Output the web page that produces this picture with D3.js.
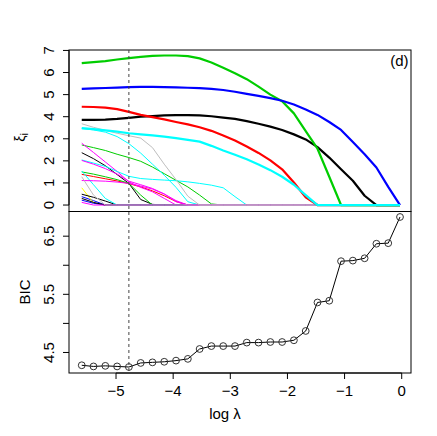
<!DOCTYPE html>
<html><head><meta charset="utf-8">
<script src="https://cdn.jsdelivr.net/npm/d3@7"></script>
<style>
body{margin:0;background:#fff}
text{font-family:"Liberation Sans",Arial,Helvetica,sans-serif;fill:#000}
</style>
</head><body>
<svg id="chart" width="437" height="436"></svg>
<script>
// ---------- data ----------
const logLambda = [-5.600,-5.394,-5.187,-4.981,-4.775,-4.568,-4.362,-4.156,-3.950,-3.743,-3.537,-3.331,-3.124,-2.918,-2.712,-2.506,-2.299,-2.093,-1.887,-1.680,-1.474,-1.268,-1.062,-0.855,-0.649,-0.443,-0.236,-0.030];
const bic = [4.28,4.26,4.27,4.26,4.25,4.32,4.33,4.34,4.36,4.39,4.56,4.61,4.61,4.61,4.67,4.67,4.68,4.68,4.71,4.87,5.36,5.39,6.07,6.08,6.12,6.37,6.38,6.83];

// thick (main) paths
const pathBlack   = [3.86,3.86,3.87,3.90,3.95,4.00,4.03,4.06,4.07,4.07,4.06,4.02,3.96,3.90,3.80,3.68,3.55,3.40,3.20,2.97,2.62,2.15,1.62,1.10,0.42,0,0,0];
const pathRed     = [4.45,4.44,4.41,4.34,4.22,4.08,3.98,3.88,3.76,3.65,3.52,3.36,3.15,2.92,2.65,2.36,2.02,1.62,1.02,0.35,0,0,0,0,0,0,0,0];
const pathGreen   = [6.43,6.47,6.52,6.59,6.65,6.71,6.75,6.77,6.77,6.74,6.64,6.45,6.22,5.97,5.70,5.36,5.00,4.70,4.15,3.35,2.55,1.28,0,0,0,0,0,0];
const pathBlue    = [5.26,5.28,5.30,5.32,5.34,5.35,5.35,5.34,5.33,5.31,5.29,5.26,5.21,5.13,5.03,4.94,4.84,4.72,4.55,4.33,4.08,3.76,3.40,2.85,2.30,1.70,0.82,0];
const pathCyan    = [3.48,3.44,3.38,3.32,3.25,3.20,3.15,3.10,3.03,2.95,2.87,2.68,2.47,2.28,2.07,1.84,1.58,1.28,0.92,0.45,0,0,0,0,0,0,0,0];

// thin (minor) paths
const thinBlack1   = [2.37,2.10,1.78,1.38,0.98,0.25,0.03,0,0,0,0,0,0,0,0,0,0,0,0,0,0,0,0,0,0,0,0,0];
const thinRed1     = [1.39,1.29,1.19,1.09,0.97,0.82,0.64,0.42,0.16,0,0,0,0,0,0,0,0,0,0,0,0,0,0,0,0,0,0,0];
const thinGreen1   = [2.72,2.60,2.47,2.30,2.15,1.98,1.72,1.42,1.12,0.82,0.45,0.05,0,0,0,0,0,0,0,0,0,0,0,0,0,0,0,0];
const thinBlue1    = [0.38,0.20,0,0,0,0,0,0,0,0,0,0,0,0,0,0,0,0,0,0,0,0,0,0,0,0,0,0];
const thinCyan1    = [3.46,3.40,3.30,3.10,2.78,2.35,1.85,1.35,0.80,0.15,0,0,0,0,0,0,0,0,0,0,0,0,0,0,0,0,0,0];
const thinMagenta1 = [2.80,2.38,1.95,1.52,1.05,0.80,0.60,0.30,0,0,0,0,0,0,0,0,0,0,0,0,0,0,0,0,0,0,0,0];
const thinYellow1  = [0.78,0.10,0,0,0,0,0,0,0,0,0,0,0,0,0,0,0,0,0,0,0,0,0,0,0,0,0,0];
const thinBlack2   = [0.49,0.35,0.18,0,0,0,0,0,0,0,0,0,0,0,0,0,0,0,0,0,0,0,0,0,0,0,0,0];
const thinGreen2   = [1.50,1.40,1.28,1.15,0.98,0.45,0,0,0,0,0,0,0,0,0,0,0,0,0,0,0,0,0,0,0,0,0,0];
const thinBlue2    = [0.22,0.08,0,0,0,0,0,0,0,0,0,0,0,0,0,0,0,0,0,0,0,0,0,0,0,0,0,0];
const thinCyan2    = [2.04,1.90,1.75,1.52,1.30,1.20,1.16,1.13,1.10,1.05,0.98,0.90,0.78,0.38,0,0,0,0,0,0,0,0,0,0,0,0,0,0];
const thinMagenta2 = [2.02,1.85,1.65,1.40,1.08,0.92,0.75,0.50,0.20,0,0,0,0,0,0,0,0,0,0,0,0,0,0,0,0,0,0,0];
const thinCyan3    = [1.54,0.92,0.30,0,0,0,0,0,0,0,0,0,0,0,0,0,0,0,0,0,0,0,0,0,0,0,0,0];
const thinBlack3   = [0.30,0.12,0,0,0,0,0,0,0,0,0,0,0,0,0,0,0,0,0,0,0,0,0,0,0,0,0,0];
const thinMagenta3 = [1.11,1.10,1.08,1.04,0.98,0.86,0.72,0.50,0.15,0,0,0,0,0,0,0,0,0,0,0,0,0,0,0,0,0,0,0];
const thinMagenta4 = [0.12,0,0,0,0,0,0,0,0,0,0,0,0,0,0,0,0,0,0,0,0,0,0,0,0,0,0,0];
const thinGray1    = [1.28,0.45,0,0,0,0,0,0,0,0,0,0,0,0,0,0,0,0,0,0,0,0,0,0,0,0,0,0];
const thinGray2    = [3.68,3.52,3.38,3.25,3.14,3.03,2.60,1.85,1.15,0.40,0,0,0,0,0,0,0,0,0,0,0,0,0,0,0,0,0,0];

const xTicks = [-5,-4,-3,-2,-1,0];
const xTickLabels = ["\u22125","\u22124","\u22123","\u22122","\u22121","0"];
const topTicks = [0,1,2,3,4,5,6,7];
const botTicks = [4.5,5,5.5,6,6.5];
const botTickLabels = ["4.5","","5.5","","6.5"];

// ---------- styles ----------
const palette = {black:"#000000", red:"#FF0000", green:"#00CD00", blue:"#0000FF",
                 cyan:"#00FFFF", magenta:"#FF00FF", yellow:"#FFFF00", gray:"#BEBEBE"};
const thinPaths = [
  [thinBlack1,"black"],[thinRed1,"red"],[thinGreen1,"green"],[thinBlue1,"blue"],
  [thinCyan1,"cyan"],[thinMagenta1,"magenta"],[thinYellow1,"yellow"],[thinBlack2,"black"],
  [thinGreen2,"green"],[thinBlue2,"blue"],[thinCyan2,"cyan"],[thinMagenta2,"magenta"],
  [thinCyan3,"cyan"],[thinBlack3,"black"],[thinMagenta3,"magenta"],[thinMagenta4,"magenta"],
  [thinGray1,"gray"],[thinGray2,"gray"]
];
const thickPaths = [[pathBlack,"black"],[pathRed,"red"],[pathGreen,"green"],[pathBlue,"blue"],[pathCyan,"cyan"]];

// ---------- layout ----------
const L = 69, R = 411, T1 = 50, B1 = 211, B2 = 373;
const svg = d3.select("#chart");
const x = d3.scaleLinear().domain([-5.823, 0.18]).range([L, 412]);
const yTop = d3.scaleLinear().domain([-0.27, 7.02]).range([B1, T1]);
const yBot = d3.scaleLinear().domain([4.147, 6.933]).range([B2, B1]);

svg.append("defs").append("clipPath").attr("id","clipTop")
  .append("rect").attr("x",L).attr("y",T1).attr("width",R-L).attr("height",B1-T1);

const lineTop = d3.line().x((d,i)=>x(logLambda[i])).y(d=>yTop(d));
const gTop = svg.append("g").attr("clip-path","url(#clipTop)");
thinPaths.forEach(([vals,col])=>{
  gTop.append("path").attr("d",lineTop(vals)).attr("fill","none")
    .attr("stroke",palette[col]).attr("stroke-width",1);
});
thickPaths.forEach(([vals,col])=>{
  gTop.append("path").attr("d",lineTop(vals)).attr("fill","none")
    .attr("stroke",palette[col]).attr("stroke-width",2.2).attr("stroke-linejoin","round");
});

// boxes
svg.append("rect").attr("x",L).attr("y",T1).attr("width",R-L).attr("height",B1+0.5-T1)
  .attr("fill","none").attr("stroke","#000").attr("stroke-width",1);
svg.append("rect").attr("x",L).attr("y",B1+0.5).attr("width",R-L).attr("height",B2-B1-0.5)
  .attr("fill","none").attr("stroke","#000").attr("stroke-width",1);

// top y axis
const gy1 = svg.append("g");
topTicks.forEach(v=>{
  gy1.append("line").attr("x1",L-6).attr("x2",L).attr("y1",yTop(v)).attr("y2",yTop(v)).attr("stroke","#000");
  gy1.append("text").attr("transform",`translate(53.5,${yTop(v)}) rotate(-90)`)
    .attr("text-anchor","middle").attr("font-size",15).text(v);
});
gy1.append("line").attr("x1",L).attr("x2",L).attr("y1",yTop(0)).attr("y2",yTop(7)).attr("stroke","#000");

// bottom panel
const lineBot = d3.line().x((d,i)=>x(logLambda[i])).y(d=>yBot(d));
svg.append("path").attr("d",lineBot(bic)).attr("fill","none").attr("stroke","#000").attr("stroke-width",1);
svg.append("g").selectAll("circle").data(bic).join("circle")
  .attr("cx",(d,i)=>x(logLambda[i])).attr("cy",d=>yBot(d)).attr("r",3.4)
  .attr("fill","none").attr("stroke","#333").attr("stroke-width",1);

const gy2 = svg.append("g");
botTicks.forEach((v,i)=>{
  gy2.append("line").attr("x1",L-6).attr("x2",L).attr("y1",yBot(v)).attr("y2",yBot(v)).attr("stroke","#000");
  if (botTickLabels[i]) gy2.append("text").attr("transform",`translate(53.5,${yBot(v)}) rotate(-90)`)
    .attr("text-anchor","middle").attr("font-size",15).text(botTickLabels[i]);
});

const gx = svg.append("g");
xTicks.forEach((v,i)=>{
  gx.append("line").attr("x1",x(v)).attr("x2",x(v)).attr("y1",B2).attr("y2",B2+6).attr("stroke","#000");
  gx.append("text").attr("x",x(v)).attr("y",395.5).attr("text-anchor","middle").attr("font-size",15).text(xTickLabels[i]);
});
gx.append("line").attr("x1",x(-5)).attr("x2",x(0)).attr("y1",B2).attr("y2",B2).attr("stroke","#000");

// selected lambda (min BIC)
const iMin = d3.minIndex(bic);
svg.append("line").attr("x1",x(logLambda[iMin])).attr("x2",x(logLambda[iMin]))
  .attr("y1",T1).attr("y2",B2).attr("stroke","#444").attr("stroke-width",1).attr("stroke-dasharray","3,3");

// labels
svg.append("text").attr("x",225).attr("y",418.5).attr("text-anchor","middle").attr("font-size",15).text("log \u03bb");
svg.append("text").attr("transform","translate(30,292) rotate(-90)").attr("text-anchor","middle").attr("font-size",15).text("BIC");
const xi = svg.append("text").attr("transform","translate(25,137.5) rotate(-90)").attr("text-anchor","middle").attr("font-size",14);
xi.append("tspan").text("\u03be");
xi.append("tspan").attr("font-size",11).attr("dy",3).text("i");
svg.append("text").attr("x",408.5).attr("y",65.5).attr("text-anchor","end").attr("font-size",15).text("(d)");
</script>
</body></html>
